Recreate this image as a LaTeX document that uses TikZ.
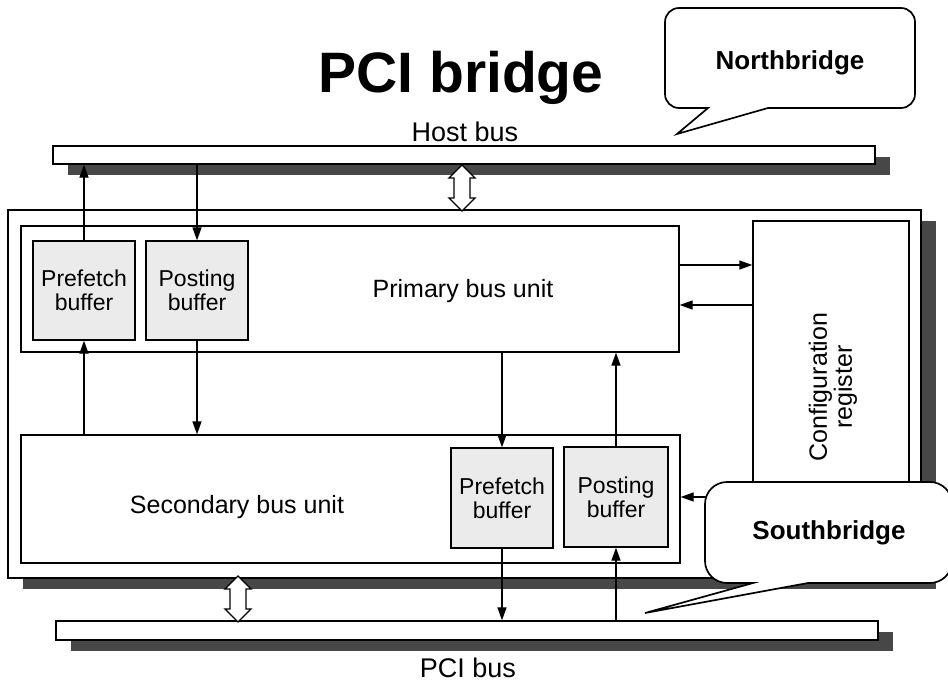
\documentclass[tikz,border=0pt]{standalone}
\usepackage{fontspec}
\setmainfont{Liberation Sans}
\usetikzlibrary{arrows.meta,shadows,calc}
\tikzset{
 box/.style={draw, line width=1.3pt, fill=white, inner sep=0pt, rectangle},
 shadowed/.style={drop shadow={shadow xshift=15pt, shadow yshift=-11pt, fill=black!72, opacity=1}},
 buf/.style={box, fill=black!8, align=center, font=\fontsize{23}{24}\selectfont},
 lbl/.style={font=\fontsize{25}{28}\selectfont, inner sep=0pt, anchor=base},
 buslbl/.style={font=\fontsize{27}{30}\selectfont, inner sep=0pt, anchor=base},
 conn/.style={line width=1.3pt, -{Triangle[length=13pt,width=9pt]}},
 hollow/.style={draw, line width=1.3pt, fill=white, line join=miter},
 callout/.style={draw, line width=1.7pt, fill=white},
 ctext/.style={font=\bfseries\fontsize{26}{28}\selectfont, inner sep=0pt},
}
\newcommand\dbarrow[2]{%
 \draw[hollow] let \p1=#1, \p2=#2 in (\p1) -- ++(13pt,-13pt) -- ++(-5pt,0pt) -- (\x2+8pt,\y2+13pt) -- ++(5pt,0pt) -- (\p2) -- ++(-13pt,13pt) -- ++(5pt,0pt) -- (\x1-8pt,\y1-13pt) -- ++(-5pt,0pt) -- cycle;}
\begin{document}
\begin{tikzpicture}[x=1pt,y=-1pt]
\fill[white] (0,0) rectangle (948,683);
\path[use as bounding box] (0,0) rectangle (948,683);
\clip (0,0) rectangle (948,683);

% title
\node[font=\bfseries\fontsize{57}{60}\selectfont, inner sep=0pt, anchor=base] (title) at (461,92) {PCI bridge};

% buses
\node[box, shadowed, minimum width=822pt, minimum height=18pt] (host) at (464,155) {};
\node[box, shadowed, minimum width=822pt, minimum height=19pt] (pci) at (467,630.5) {};
\node[buslbl] (hostlbl) at (465,141) {Host bus};
\node[buslbl] (pcilbl) at (468,677) {PCI bus};

% bridge
\node[box, shadowed, minimum width=913pt, minimum height=368pt] (outer) at (464.5,394) {};
\node[box, minimum width=658pt, minimum height=126pt] (pri) at (350,289) {};
\node[box, minimum width=659pt, minimum height=128pt] (sec) at (350.5,499) {};
\node[box, minimum width=156pt, minimum height=344pt] (cfg) at (831,393) {};
\node[lbl] (prilbl) at (463,297) {Primary bus unit};
\node[lbl] (seclbl) at (237,513) {Secondary bus unit};
\node[font=\fontsize{25}{25}\selectfont, align=center, rotate=90, inner sep=0pt] (cfglbl) at (833,387) {Configuration\\register};

\node[buf, minimum width=102pt, minimum height=99pt] (pf1) at (84,290.5) {Prefetch\\buffer};
\node[buf, minimum width=102pt, minimum height=99pt] (ps1) at (197,290.5) {Posting\\buffer};
\node[buf, minimum width=102pt, minimum height=100pt] (pf2) at (502,498) {Prefetch\\buffer};
\node[buf, minimum width=104pt, minimum height=100pt] (ps2) at (616,497) {Posting\\buffer};

% connectors
\draw[conn] (pf1.north) -- (pf1.north |- host.south);
\draw[conn] (ps1.north |- host.south) -- (ps1.north);
\draw[conn] (pf1.south |- sec.north) -- (pf1.south);
\draw[conn] (ps1.south) -- (ps1.south |- sec.north);
\draw[conn] (pf2.north |- pri.south) -- (pf2.north);
\draw[conn] (ps2.north) -- (ps2.north |- pri.south);
\draw[conn] (pf2.south) -- (pf2.south |- pci.north);
\draw[conn] (ps2.south |- pci.north) -- (ps2.south);
\draw[conn] (pri.east |- 0,265) -- (cfg.west |- 0,265);
\draw[conn] (cfg.west |- 0,305) -- (pri.east |- 0,305);
\draw[conn] (cfg.west |- 0,497) -- (sec.east |- 0,497);

% hollow double arrows
\coordinate (d1t) at (462,165);
\coordinate (d1b) at (462,211);
\coordinate (d2t) at (238,576);
\coordinate (d2b) at (238,622);
\dbarrow{(d1t)}{(d1b)}
\dbarrow{(d2t)}{(d2b)}

% callouts
\draw[callout] (677,134) -- (708,108) [rounded corners=14pt] -- (665,108) -- (665,8) -- (915,8) -- (915,108) [sharp corners] -- (768,108) -- cycle;
\node[ctext] (nb) at (790,63) {Northbridge};
\draw[callout] (645,613) -- (753,583) [rounded corners=22pt] -- (705,583) -- (705,482) -- (952,482) -- (952,583) [sharp corners] -- (808,583) -- cycle;
\node[ctext] (sb) at (829,533) {Southbridge};
\end{tikzpicture}
\end{document}
